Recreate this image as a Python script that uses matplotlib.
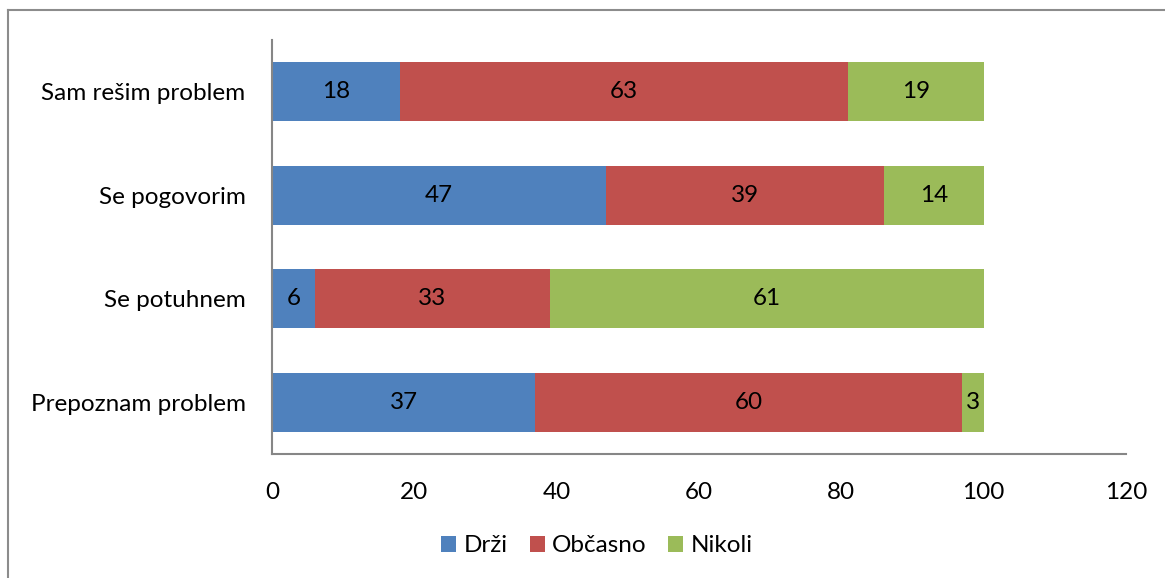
import matplotlib
matplotlib.use("Agg")
import matplotlib.pyplot as plt
from matplotlib.lines import Line2D
import numpy as np

categories = ["Prepoznam problem", "Se potuhnem", "Se pogovorim", "Sam rešim problem"]
drzi = [37, 6, 47, 18]
obcasno = [60, 33, 39, 63]
nikoli = [3, 61, 14, 19]
series_names = ["Drži", "Občasno", "Nikoli"]
colors = ["#4F81BD", "#C0504D", "#9BBB59"]
xticks = [0, 20, 40, 60, 80, 100, 120]

plt.rcParams['font.family'] = ['Lato', 'DejaVu Sans']
FS = 17.5
W, H = 1165, 578
fig = plt.figure(figsize=(W/100, H/100), dpi=100)
ax = fig.add_axes([272/W, 1-454/H, (1126-272)/W, (454-40)/H])

y = np.arange(len(categories))
left = np.zeros(len(categories))
for vals, name, c in zip([drzi, obcasno, nikoli], series_names, colors):
    ax.barh(y, vals, left=left, height=0.57, color=c, label=name)
    for yi, l, v in zip(y, left, vals):
        ax.text(l + v/2, yi, str(v), ha='center', va='center', fontsize=FS, color='black')
    left = left + np.array(vals)

ax.set_xlim(0, 120)
ax.set_ylim(-0.5, len(categories)-0.5)
ax.set_xticks(xticks)
ax.set_xticklabels([str(t) for t in xticks], fontsize=FS)
ax.set_yticks(y)
ax.set_yticklabels(categories, fontsize=FS)
ax.tick_params(axis='x', length=0, pad=20)
ax.tick_params(axis='y', length=0, pad=19)
for s in ['top', 'right']:
    ax.spines[s].set_visible(False)
for s in ['left', 'bottom']:
    ax.spines[s].set_color('#868686')
    ax.spines[s].set_linewidth(1.5)

# chart area border (top and left visible)
fig.add_artist(Line2D([8/W, 8/W], [0, 1-10/H], color='#8C8C8C', lw=1.5, transform=fig.transFigure))
fig.add_artist(Line2D([8/W, 1], [1-10/H, 1-10/H], color='#8C8C8C', lw=1.5, transform=fig.transFigure))

fig.legend(loc='center', bbox_to_anchor=(597/W, 1-546/H), ncol=3, frameon=False,
           fontsize=FS, handlelength=0.62, handleheight=0.62, handletextpad=0.3,
           columnspacing=0.9)

fig.savefig("out.png", dpi=100)
